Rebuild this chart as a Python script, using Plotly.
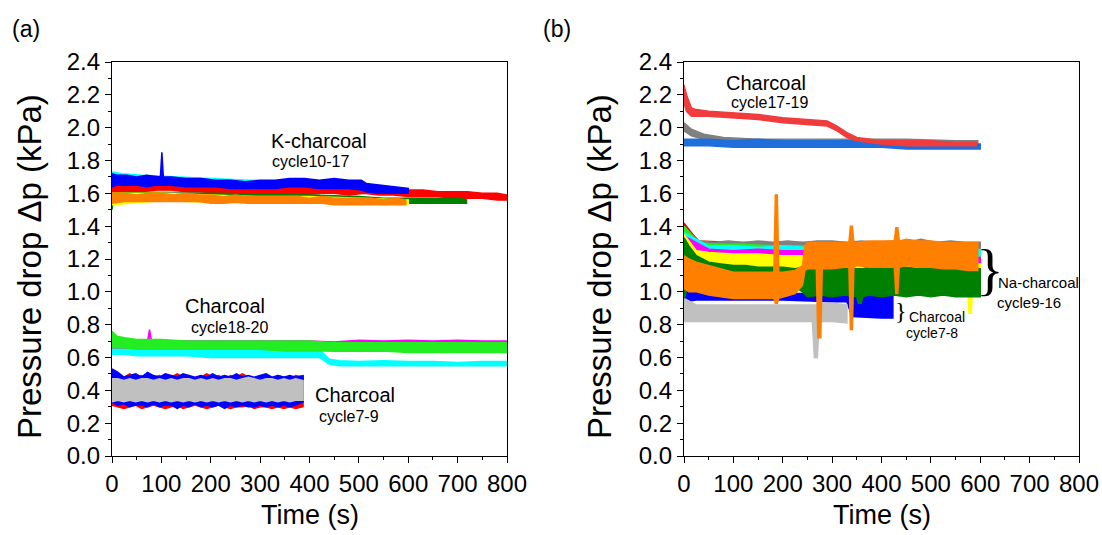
import plotly.graph_objects as go

W, H = 1102, 535

# ---------------- Panel (a) data ----------------
# K-charcoal cycle10-17
a_blue_t = [0, 10, 30, 50, 70, 90, 98, 101, 104, 120, 150, 180, 210, 240, 270, 300, 330, 360, 390, 420, 450, 480, 505, 515, 540, 570, 600]
a_blue_hi = [1.72, 1.71, 1.71, 1.70, 1.71, 1.70, 1.70, 1.85, 1.70, 1.70, 1.69, 1.69, 1.68, 1.68, 1.67, 1.68, 1.68, 1.69, 1.69, 1.68, 1.69, 1.68, 1.68, 1.66, 1.65, 1.64, 1.63]
a_blue_lo = [1.64, 1.65, 1.65, 1.65, 1.64, 1.65, 1.65, 1.65, 1.65, 1.65, 1.64, 1.64, 1.64, 1.63, 1.63, 1.63, 1.63, 1.64, 1.64, 1.63, 1.63, 1.63, 1.62, 1.61, 1.60, 1.60, 1.60]

a_red_t = [0, 30, 60, 90, 120, 150, 180, 210, 240, 270, 300, 330, 360, 390, 420, 450, 480, 510, 540, 570, 600, 630, 660, 690, 720, 750, 780, 800]
a_red_hi = [1.68, 1.66, 1.65, 1.67, 1.68, 1.66, 1.65, 1.65, 1.64, 1.65, 1.64, 1.64, 1.65, 1.64, 1.64, 1.64, 1.63, 1.63, 1.63, 1.62, 1.62, 1.62, 1.61, 1.61, 1.61, 1.60, 1.60, 1.59]
a_red_lo = [1.60, 1.61, 1.61, 1.62, 1.62, 1.61, 1.61, 1.60, 1.60, 1.60, 1.60, 1.60, 1.60, 1.59, 1.60, 1.60, 1.59, 1.60, 1.59, 1.59, 1.58, 1.58, 1.58, 1.57, 1.57, 1.57, 1.56, 1.56]

a_gray_t = [0, 30, 60, 90, 120, 150, 180, 210, 240, 270, 300, 330, 360, 390, 420]
a_gray_hi = [1.67, 1.66, 1.65, 1.65, 1.64, 1.64, 1.64, 1.63, 1.63, 1.63, 1.62, 1.62, 1.62, 1.61, 1.61]
a_gray_lo = [1.59, 1.60, 1.60, 1.60, 1.60, 1.60, 1.59, 1.59, 1.59, 1.59, 1.58, 1.58, 1.58, 1.58, 1.58]

a_cyan_t = [0, 20, 60, 120, 200, 280, 340, 380, 395]
a_cyan_hi = [1.73, 1.72, 1.71, 1.70, 1.69, 1.68, 1.67, 1.63, 1.62]
a_cyan_lo = [1.63, 1.64, 1.64, 1.63, 1.62, 1.61, 1.60, 1.59, 1.59]

a_green_t = [0, 3, 10, 60, 120, 200, 300, 400, 500, 550, 600, 650, 700, 718]
a_green_hi = [1.58, 1.60, 1.605, 1.605, 1.60, 1.60, 1.595, 1.59, 1.58, 1.57, 1.57, 1.57, 1.57, 1.56]
a_green_lo = [1.50, 1.56, 1.585, 1.59, 1.585, 1.585, 1.58, 1.57, 1.56, 1.55, 1.54, 1.54, 1.54, 1.54]

a_yellow_t = [0, 30, 100, 200, 300, 400, 500, 600]
a_yellow_hi = [1.60, 1.60, 1.60, 1.59, 1.58, 1.58, 1.57, 1.56]
a_yellow_lo = [1.53, 1.54, 1.555, 1.545, 1.545, 1.545, 1.535, 1.535]

a_orange_t = [0, 25, 50, 75, 100, 125, 150, 175, 200, 225, 250, 275, 300, 325, 350, 375, 400, 425, 450, 475, 500, 525, 550, 575, 595]
a_orange_hi = [1.60, 1.60, 1.59, 1.60, 1.60, 1.59, 1.60, 1.59, 1.59, 1.58, 1.59, 1.58, 1.58, 1.58, 1.58, 1.58, 1.57, 1.58, 1.57, 1.57, 1.57, 1.57, 1.56, 1.57, 1.56]
a_orange_lo = [1.54, 1.55, 1.55, 1.55, 1.55, 1.55, 1.55, 1.55, 1.54, 1.54, 1.545, 1.54, 1.54, 1.54, 1.54, 1.54, 1.54, 1.54, 1.53, 1.53, 1.53, 1.53, 1.53, 1.53, 1.53]

# Charcoal cycle18-20
a_cyan18_t = [0, 5, 25, 50, 100, 150, 200, 250, 300, 350, 400, 420, 430, 440, 460, 500, 550, 600, 650, 700, 750, 800]
a_cyan18_hi = [0.70, 0.68, 0.67, 0.66, 0.66, 0.66, 0.66, 0.65, 0.65, 0.65, 0.65, 0.65, 0.62, 0.59, 0.58, 0.575, 0.58, 0.575, 0.575, 0.57, 0.575, 0.575]
a_cyan18_lo = [0.62, 0.62, 0.62, 0.61, 0.61, 0.61, 0.60, 0.60, 0.60, 0.60, 0.60, 0.60, 0.58, 0.56, 0.55, 0.55, 0.55, 0.55, 0.55, 0.55, 0.55, 0.55]

a_mag18_t = [0, 50, 72, 76, 80, 100, 200, 300, 400, 450, 500, 550, 600, 650, 700, 750, 800]
a_mag18_hi = [0.72, 0.70, 0.70, 0.77, 0.70, 0.70, 0.70, 0.70, 0.70, 0.695, 0.705, 0.70, 0.705, 0.70, 0.705, 0.70, 0.70]
a_mag18_lo = [0.66, 0.66, 0.66, 0.66, 0.66, 0.65, 0.65, 0.65, 0.65, 0.64, 0.64, 0.64, 0.64, 0.64, 0.64, 0.64, 0.64]

a_lime18_t = [0, 10, 25, 50, 100, 150, 200, 250, 300, 350, 400, 450, 500, 550, 600, 650, 700, 750, 800]
a_lime18_hi = [0.76, 0.73, 0.72, 0.71, 0.71, 0.70, 0.70, 0.70, 0.70, 0.70, 0.70, 0.69, 0.69, 0.69, 0.69, 0.69, 0.69, 0.69, 0.69]
a_lime18_lo = [0.66, 0.66, 0.66, 0.65, 0.65, 0.65, 0.65, 0.65, 0.65, 0.64, 0.64, 0.64, 0.64, 0.64, 0.63, 0.63, 0.63, 0.63, 0.63]

# Charcoal cycle7-9
a_c79_t = [0, 12, 24, 36, 48, 60, 72, 84, 96, 108, 120, 132, 144, 156, 168, 180, 192, 204, 216, 228, 240, 252, 264, 276, 288, 300, 312, 324, 336, 348, 360, 372, 387]
a_red79_hi = [0.50, 0.49, 0.48, 0.50, 0.48, 0.49, 0.47, 0.48, 0.49, 0.47, 0.48, 0.50, 0.48, 0.49, 0.47, 0.48, 0.50, 0.48, 0.49, 0.47, 0.49, 0.48, 0.50, 0.48, 0.47, 0.49, 0.48, 0.47, 0.49, 0.48, 0.47, 0.49, 0.48]
a_red79_lo = [0.31, 0.30, 0.29, 0.30, 0.31, 0.29, 0.30, 0.31, 0.30, 0.29, 0.30, 0.31, 0.29, 0.30, 0.31, 0.30, 0.29, 0.30, 0.31, 0.30, 0.29, 0.30, 0.30, 0.31, 0.29, 0.30, 0.30, 0.29, 0.30, 0.29, 0.30, 0.29, 0.30]
a_blue79_hi = [0.53, 0.51, 0.48, 0.49, 0.50, 0.48, 0.51, 0.49, 0.48, 0.50, 0.49, 0.48, 0.50, 0.49, 0.48, 0.49, 0.48, 0.50, 0.48, 0.49, 0.48, 0.50, 0.48, 0.49, 0.48, 0.49, 0.50, 0.48, 0.49, 0.48, 0.49, 0.48, 0.49]
a_blue79_lo = [0.33, 0.31, 0.32, 0.30, 0.31, 0.31, 0.30, 0.32, 0.30, 0.31, 0.31, 0.29, 0.31, 0.30, 0.32, 0.30, 0.31, 0.30, 0.31, 0.29, 0.31, 0.30, 0.31, 0.30, 0.30, 0.31, 0.30, 0.31, 0.30, 0.31, 0.30, 0.31, 0.33]
a_gray79_hi = [0.47, 0.47, 0.46, 0.47, 0.46, 0.47, 0.47, 0.46, 0.47, 0.46, 0.47, 0.46, 0.47, 0.47, 0.46, 0.47, 0.46, 0.47, 0.46, 0.47, 0.47, 0.46, 0.47, 0.48, 0.47, 0.46, 0.47, 0.47, 0.46, 0.47, 0.46, 0.47, 0.46]
a_gray79_lo = [0.33, 0.34, 0.33, 0.34, 0.33, 0.34, 0.33, 0.34, 0.33, 0.34, 0.33, 0.34, 0.33, 0.34, 0.33, 0.34, 0.33, 0.34, 0.33, 0.34, 0.33, 0.34, 0.33, 0.34, 0.33, 0.34, 0.33, 0.34, 0.33, 0.34, 0.33, 0.34, 0.34]

# ---------------- Panel (b) data ----------------
# Charcoal cycle17-19
b_red17_t = [0, 5, 15, 25, 50, 100, 150, 200, 250, 290, 310, 330, 350, 375, 400, 450, 500, 550, 592]
b_red17_hi = [2.26, 2.20, 2.12, 2.11, 2.10, 2.09, 2.08, 2.06, 2.05, 2.04, 2.01, 1.97, 1.94, 1.93, 1.92, 1.92, 1.92, 1.91, 1.91]
b_red17_lo = [2.15, 2.10, 2.07, 2.07, 2.07, 2.06, 2.05, 2.03, 2.02, 2.01, 1.98, 1.94, 1.92, 1.91, 1.90, 1.89, 1.89, 1.89, 1.89]

b_gray17_t = [0, 15, 40, 80, 150, 250, 350, 450, 550, 595]
b_gray17_hi = [2.03, 1.99, 1.96, 1.94, 1.93, 1.93, 1.93, 1.93, 1.92, 1.92]
b_gray17_lo = [1.98, 1.95, 1.93, 1.92, 1.91, 1.91, 1.91, 1.91, 1.90, 1.90]

b_blue17_t = [0, 50, 100, 150, 200, 250, 300, 350, 400, 450, 500, 550, 600]
b_blue17_hi = [1.93, 1.93, 1.92, 1.93, 1.92, 1.92, 1.92, 1.92, 1.91, 1.91, 1.91, 1.90, 1.90]
b_blue17_lo = [1.89, 1.89, 1.88, 1.88, 1.88, 1.88, 1.88, 1.88, 1.88, 1.87, 1.87, 1.87, 1.87]

# Charcoal cycle7-8
b_blue78_t = [0, 25, 100, 200, 300, 330, 340, 350, 400, 423]
b_blue78_hi = [1.04, 1.02, 1.00, 0.99, 0.99, 0.99, 0.99, 0.98, 0.98, 0.97]
b_blue78_lo = [0.94, 0.95, 0.95, 0.95, 0.94, 0.94, 0.85, 0.85, 0.84, 0.84]

b_gray78_t = [0, 25, 100, 200, 260, 264, 270, 274, 300, 330]
b_gray78_hi = [0.96, 0.92, 0.92, 0.92, 0.92, 0.92, 0.92, 0.93, 0.93, 0.92]
b_gray78_lo = [0.82, 0.82, 0.82, 0.82, 0.82, 0.60, 0.60, 0.82, 0.82, 0.81]

# Na-charcoal cycle9-16
b_red9_t = [0, 15, 30, 100, 200, 300, 400, 500, 600]
b_red9_hi = [1.42, 1.36, 1.31, 1.30, 1.30, 1.30, 1.30, 1.30, 1.30]
b_red9_lo = [1.30, 1.28, 1.27, 1.26, 1.26, 1.26, 1.26, 1.26, 1.26]

b_gray9_t = [0, 30, 60, 90, 120, 150, 180, 210, 240, 270, 300, 330, 360, 390, 420, 450, 480, 510, 540, 570, 600]
b_gray9_hi = [1.38, 1.31, 1.30, 1.31, 1.30, 1.31, 1.30, 1.31, 1.30, 1.31, 1.31, 1.30, 1.31, 1.30, 1.31, 1.30, 1.32, 1.30, 1.31, 1.30, 1.30]
b_gray9_lo = [1.20, 1.27, 1.27, 1.27, 1.27, 1.27, 1.27, 1.27, 1.27, 1.27, 1.27, 1.27, 1.27, 1.27, 1.27, 1.27, 1.27, 1.27, 1.27, 1.27, 1.27]

b_lime9_t = [0, 30, 60, 120, 180, 240, 280]
b_lime9_hi = [1.40, 1.30, 1.29, 1.29, 1.28, 1.28, 1.28]
b_lime9_lo = [1.20, 1.24, 1.24, 1.23, 1.23, 1.23, 1.23]

b_cyan9_t = [0, 50, 100, 150, 200, 250, 300, 400, 500, 600]
b_cyan9_hi = [1.36, 1.28, 1.28, 1.27, 1.28, 1.27, 1.27, 1.27, 1.27, 1.26]
b_cyan9_lo = [1.20, 1.22, 1.22, 1.22, 1.22, 1.22, 1.21, 1.21, 1.21, 1.20]

b_mag9_t = [0, 50, 100, 150, 200, 250, 300, 400, 500, 600]
b_mag9_hi = [1.34, 1.26, 1.25, 1.26, 1.25, 1.25, 1.24, 1.23, 1.22, 1.21]
b_mag9_lo = [1.18, 1.20, 1.19, 1.19, 1.19, 1.19, 1.18, 1.17, 1.17, 1.16]

b_yel9_t = [0, 25, 50, 100, 150, 200, 250, 300, 400, 500, 574, 577, 582, 585, 600]
b_yel9_hi = [1.35, 1.25, 1.24, 1.23, 1.23, 1.22, 1.22, 1.18, 1.18, 1.17, 1.17, 1.17, 1.17, 1.17, 1.17]
b_yel9_lo = [1.15, 1.14, 1.14, 1.13, 1.13, 1.12, 1.12, 1.11, 1.11, 1.11, 1.11, 0.87, 0.87, 1.11, 1.11]

b_grn9_t = [0, 10, 25, 50, 75, 100, 125, 150, 175, 200, 225, 240, 250, 275, 300, 325, 350, 353, 359, 362, 375, 400, 425, 450, 475, 500, 525, 550, 575, 600]
b_grn9_hi = [1.33, 1.28, 1.22, 1.18, 1.17, 1.16, 1.16, 1.15, 1.15, 1.15, 1.14, 1.15, 1.14, 1.15, 1.14, 1.15, 1.14, 1.14, 1.14, 1.14, 1.15, 1.14, 1.15, 1.15, 1.14, 1.15, 1.14, 1.15, 1.14, 1.14]
b_grn9_lo = [0.96, 1.05, 1.08, 1.08, 1.07, 1.07, 1.06, 1.06, 1.05, 1.05, 1.03, 1.00, 0.97, 0.98, 0.97, 0.98, 0.97, 0.93, 0.93, 0.97, 0.98, 0.97, 0.98, 0.97, 0.98, 0.97, 0.98, 0.97, 0.97, 0.97]

b_org9_t = [0, 10, 25, 50, 75, 100, 125, 150, 175, 182, 185, 189, 192, 200, 225, 240, 245, 250, 268, 271, 277, 280, 300, 325, 334, 337, 341, 344, 350, 375, 400, 426, 429, 433, 436, 450, 475, 500, 525, 550, 575, 595]
b_org9_hi = [1.22, 1.20, 1.18, 1.16, 1.14, 1.12, 1.12, 1.12, 1.12, 1.12, 1.59, 1.59, 1.12, 1.12, 1.13, 1.16, 1.28, 1.30, 1.30, 1.30, 1.30, 1.30, 1.30, 1.30, 1.30, 1.40, 1.40, 1.30, 1.30, 1.31, 1.31, 1.31, 1.39, 1.39, 1.31, 1.32, 1.31, 1.31, 1.30, 1.30, 1.30, 1.30]
b_org9_lo = [1.02, 1.00, 1.00, 0.98, 0.97, 0.96, 0.96, 0.96, 0.96, 0.96, 0.93, 0.93, 0.96, 0.97, 0.99, 1.04, 1.13, 1.14, 1.14, 0.72, 0.72, 1.14, 1.14, 1.15, 1.15, 0.77, 0.77, 1.15, 1.16, 1.15, 1.15, 1.15, 0.99, 0.99, 1.15, 1.16, 1.15, 1.15, 1.14, 1.14, 1.13, 1.13]

fig = go.Figure()


def band(t, lo, hi, color, panel):
    xs = list(t) + list(t)[::-1]
    ys = list(hi) + list(lo)[::-1]
    fig.add_trace(go.Scatter(
        x=xs, y=ys, fill="toself", fillcolor=color, mode="lines",
        line=dict(color=color, width=1.5), hoverinfo="skip", showlegend=False,
        xaxis="x" if panel == "a" else "x2", yaxis="y" if panel == "a" else "y2"))


RED, BLUE, CYAN, GRAY, LGRAY = "#ff0000", "#0000ff", "#00ffff", "#c0c0c0", "#c0c0c0"
DGREEN, LIME, MAG, YEL, ORG = "#008000", "#22ee22", "#ff00ff", "#ffff00", "#ff8000"

# panel a
band(a_cyan_t, a_cyan_lo, a_cyan_hi, CYAN, "a")
band(a_gray_t, a_gray_lo, a_gray_hi, GRAY, "a")
band(a_red_t, a_red_lo, a_red_hi, RED, "a")
band(a_green_t, a_green_lo, a_green_hi, DGREEN, "a")
band(a_yellow_t, a_yellow_lo, a_yellow_hi, YEL, "a")
band(a_orange_t, a_orange_lo, a_orange_hi, ORG, "a")
band(a_blue_t, a_blue_lo, a_blue_hi, BLUE, "a")

band(a_cyan18_t, a_cyan18_lo, a_cyan18_hi, CYAN, "a")
band(a_mag18_t, a_mag18_lo, a_mag18_hi, MAG, "a")
band(a_lime18_t, a_lime18_lo, a_lime18_hi, LIME, "a")

band(a_c79_t, a_red79_lo, a_red79_hi, RED, "a")
band(a_c79_t, a_blue79_lo, a_blue79_hi, BLUE, "a")
band(a_c79_t, a_gray79_lo, a_gray79_hi, GRAY, "a")

# panel b
band(b_gray17_t, b_gray17_lo, b_gray17_hi, "#808080", "b")
band(b_blue17_t, b_blue17_lo, b_blue17_hi, "#1e6edc", "b")
band(b_red17_t, b_red17_lo, b_red17_hi, "#f03c3c", "b")

band(b_blue78_t, b_blue78_lo, b_blue78_hi, BLUE, "b")
band(b_gray78_t, b_gray78_lo, b_gray78_hi, LGRAY, "b")

band(b_red9_t, b_red9_lo, b_red9_hi, RED, "b")
band(b_gray9_t, b_gray9_lo, b_gray9_hi, "#808080", "b")
band(b_lime9_t, b_lime9_lo, b_lime9_hi, LIME, "b")
band(b_cyan9_t, b_cyan9_lo, b_cyan9_hi, CYAN, "b")
band(b_mag9_t, b_mag9_lo, b_mag9_hi, MAG, "b")
band(b_yel9_t, b_yel9_lo, b_yel9_hi, YEL, "b")
band(b_grn9_t, b_grn9_lo, b_grn9_hi, DGREEN, "b")
band(b_org9_t, b_org9_lo, b_org9_hi, ORG, "b")

FONT = "Arial, 'Liberation Sans', sans-serif"
xa = dict(range=[0, 800], tickvals=[0, 100, 200, 300, 400, 500, 600, 700, 800],
          ticks="outside", ticklen=6, tickwidth=1.2, tickcolor="black",
          minor=dict(dtick=50, ticks="outside", ticklen=3, tickcolor="black", tickwidth=1),
          showline=True, linecolor="black", linewidth=1.3, mirror=True, automargin=False,
          showgrid=False, zeroline=False, tickfont=dict(size=24, color="black", family=FONT))
ya = dict(range=[0, 2.4], dtick=0.2, tick0=0, tickformat=".1f",
          ticks="outside", ticklen=6, tickwidth=1.2, tickcolor="black",
          minor=dict(dtick=0.1, ticks="outside", ticklen=3, tickcolor="black", tickwidth=1),
          showline=True, linecolor="black", linewidth=1.3, mirror=True, automargin=False,
          showgrid=False, zeroline=False, tickfont=dict(size=24, color="black", family=FONT))

ydom = [79 / H, 473 / H]
fig.update_layout(
    width=W, height=H, margin=dict(l=0, r=0, t=0, b=0, pad=0, autoexpand=False),
    paper_bgcolor="white", plot_bgcolor="white",
    font=dict(family=FONT, color="black"),
    xaxis=dict(xa, domain=[112 / W, 507 / W], anchor="y"),
    yaxis=dict(ya, domain=ydom, anchor="x"),
    xaxis2=dict(xa, domain=[684 / W, 1079 / W], anchor="y2"),
    yaxis2=dict(ya, domain=ydom, anchor="x2"),
)


def txt(s, px, py, size, angle=0, family=FONT):
    fig.add_annotation(text=s, x=px / W, y=1 - py / H, xref="paper", yref="paper",
                       showarrow=False, xanchor="center", yanchor="middle",
                       textangle=angle, font=dict(size=size, color="black", family=family))


txt("(a)", 26, 29, 23)
txt("(b)", 557, 29, 23)
txt("K-charcoal", 319, 141, 20)
txt("cycle10-17", 311, 161, 16)
txt("Charcoal", 225, 306, 20)
txt("cycle18-20", 229, 327, 16)
txt("Charcoal", 355, 395, 20)
txt("cycle7-9", 349, 416, 16)
txt("Charcoal", 766, 83, 20)
txt("cycle17-19", 769, 103, 16)
txt("}", 990, 270, 58, family="'Liberation Serif', 'Times New Roman', serif")
txt("Na-charcoal", 1038, 282, 15)
txt("cycle9-16", 1029, 302, 15)
txt("}", 901, 311, 24, family="'Liberation Serif', 'Times New Roman', serif")
txt("Charcoal", 937, 317, 14)
txt("cycle7-8", 932, 333, 14)
txt("Time (s)", 310, 515, 27)
txt("Time (s)", 882, 515, 27)
txt("Pressure drop Δp (kPa)", 29, 267, 33, angle=-90)
txt("Pressure drop Δp (kPa)", 599, 267, 33, angle=-90)

fig.write_html("out.html")
